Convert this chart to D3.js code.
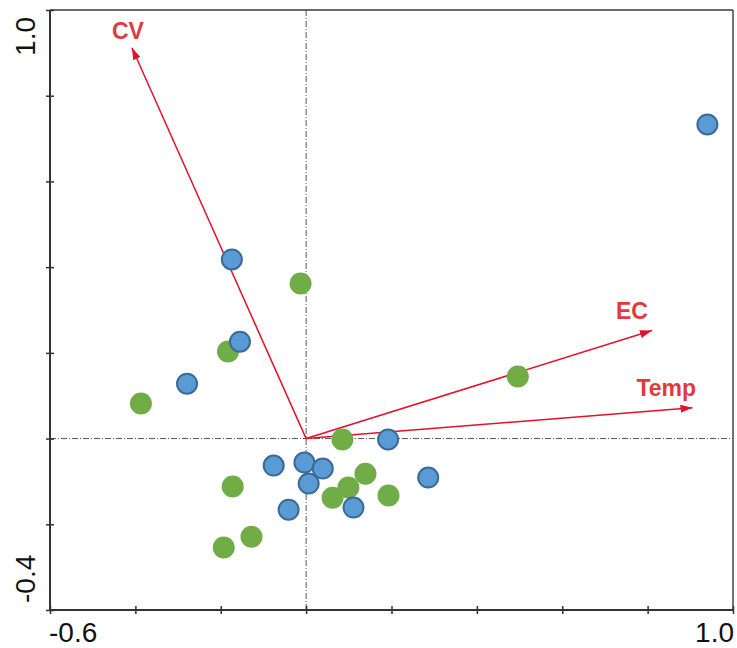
<!DOCTYPE html>
<html>
<head>
	<meta charset='utf-8'>
	<title>Ordination</title>
	<style>
		body { margin: 0; background: #fff; }
		.tick-label { font-family: Arial, 'Liberation Sans', sans-serif; font-size: 28px; fill: #111; }
		.vec { stroke: #e3112c; stroke-width: 1.5px; fill: none; }
		.vec-label { font-family: Arial, 'Liberation Sans', sans-serif; font-size: 23px; font-weight: bold; fill: #e23a3c; }
		.zero { stroke: #555; stroke-width: 1px; stroke-dasharray: 6,2,1,2; }
		.blue { fill: #5b9bd5; stroke: #3b6a99; stroke-width: 2px; }
		.green { fill: #70ad47; }
	</style>
</head>
<body>
<script src='https://d3js.org/d3.v7.min.js'></script>
<script>
	'use strict';

	// Биплот: векторы факторов
	const vectorNames = ['CV', 'EC', 'Temp'];
	const vectorX = [-0.408, 0.810, 0.905];
	const vectorY = [0.912, 0.252, 0.072];

	// Точки (две группы)
	const blueX = [0.940, -0.174, -0.155, -0.279, 0.192, -0.076, -0.004, 0.039, 0.006, 0.286, -0.041, 0.111];
	const blueY = [0.733, 0.418, 0.226, 0.128, -0.002, -0.063, -0.056, -0.070, -0.105, -0.091, -0.166, -0.161];
	const greenX = [-0.013, -0.183, -0.387, 0.496, 0.085, 0.139, 0.099, 0.062, 0.193, -0.172, -0.128, -0.193];
	const greenY = [0.362, 0.203, 0.082, 0.145, -0.002, -0.082, -0.114, -0.138, -0.133, -0.112, -0.229, -0.254];

	const xTicks = [-0.6, -0.4, -0.2, 0, 0.2, 0.4, 0.6, 0.8, 1.0];
	const yTicks = [-0.4, -0.2, 0, 0.2, 0.4, 0.6, 0.8, 1.0];
	const xTickLabels = ['-0.6', '1.0'];
	const yTickLabels = ['-0.4', '1.0'];

	const W = 737, H = 648;
	const margin = {top: 10, right: 4, bottom: 38, left: 50};
	const width = W - margin.left - margin.right;
	const height = H - margin.top - margin.bottom;

	const x = d3.scaleLinear().domain([-0.6, 1.0]).range([0, width]);
	const y = d3.scaleLinear().domain([-0.4, 1.0]).range([height, 0]);

	const svg = d3.select('body').append('svg')
		.attr('width', W)
		.attr('height', H);

	const g = svg.append('g')
		.attr('transform', 'translate(' + margin.left + ',' + margin.top + ')');

	// рамка: верх и право серые
	g.append('line').attr('x1', 0).attr('x2', width).attr('y1', 0).attr('y2', 0)
		.attr('stroke', '#6a6a6a').attr('stroke-width', 2);
	g.append('line').attr('x1', width).attr('x2', width).attr('y1', 0).attr('y2', height)
		.attr('stroke', '#444').attr('stroke-width', 1.5);

	// нулевые линии
	g.append('line').attr('class', 'zero')
		.attr('x1', 0).attr('x2', width).attr('y1', y(0)).attr('y2', y(0));
	g.append('line').attr('class', 'zero')
		.attr('x1', x(0)).attr('x2', x(0)).attr('y1', 0).attr('y2', height);

	// оси
	const xAxis = g.append('g')
		.attr('transform', 'translate(0,' + height + ')')
		.call(d3.axisBottom(x).tickValues(xTicks).tickSize(8).tickFormat(''));
	xAxis.selectAll('.tick line').attr('transform', 'translate(0,-4)');

	const yAxis = g.append('g')
		.call(d3.axisLeft(y).tickValues(yTicks).tickSize(8).tickFormat(''));
	yAxis.selectAll('.tick line').attr('transform', 'translate(4,0)');

	[xAxis, yAxis].forEach(function(a) {
		a.select('.domain').attr('stroke', '#333').attr('stroke-width', 2);
		a.selectAll('.tick line').attr('stroke', '#333').attr('stroke-width', 1.5);
	});
	xAxis.select('.domain').attr('d', 'M0,0H' + width);
	yAxis.select('.domain').attr('d', 'M0,' + height + 'V0');

	// подписи крайних делений
	g.append('text').attr('class', 'tick-label')
		.attr('x', x(-0.6) - 1).attr('y', height + 32)
		.text(xTickLabels[0]);
	g.append('text').attr('class', 'tick-label')
		.attr('x', x(1.0) + 1).attr('y', height + 32)
		.attr('text-anchor', 'end')
		.text(xTickLabels[1]);
	g.append('text').attr('class', 'tick-label')
		.attr('transform', 'translate(-15,' + (y(-0.4) - 7) + ') rotate(-90)')
		.text(yTickLabels[0]);
	g.append('text').attr('class', 'tick-label')
		.attr('transform', 'translate(-15,' + (y(1.0) + 7) + ') rotate(-90)')
		.attr('text-anchor', 'end')
		.text(yTickLabels[1]);

	// наконечник стрелки
	svg.append('defs').append('marker')
		.attr('id', 'head')
		.attr('viewBox', '0 0 12 8')
		.attr('refX', 12).attr('refY', 4)
		.attr('markerWidth', 12).attr('markerHeight', 8)
		.attr('markerUnits', 'userSpaceOnUse')
		.attr('orient', 'auto')
		.append('path')
		.attr('d', 'M0,0L12,4L0,8Z')
		.attr('fill', '#e3112c');

	const vectors = vectorNames.map(function(n, i) {
		return {name: n, x: vectorX[i], y: vectorY[i]};
	});
	// смещение подписей от кончика стрелки
	const labelOffset = {CV: [-20, -9], EC: [-36, -12], Temp: [-56, -12]};

	g.selectAll('.vec').data(vectors).enter().append('line')
		.attr('class', 'vec')
		.attr('x1', x(0)).attr('y1', y(0))
		.attr('x2', function(d) {return x(d.x);})
		.attr('y2', function(d) {return y(d.y);})
		.attr('marker-end', 'url(#head)');

	g.selectAll('.vec-label').data(vectors).enter().append('text')
		.attr('class', 'vec-label')
		.attr('x', function(d) {return x(d.x) + labelOffset[d.name][0];})
		.attr('y', function(d) {return y(d.y) + labelOffset[d.name][1];})
		.text(function(d) {return d.name;});

	// точки
	const greens = greenX.map(function(v, i) {return {x: v, y: greenY[i]};});
	const blues = blueX.map(function(v, i) {return {x: v, y: blueY[i]};});

	g.selectAll('.green').data(greens).enter().append('circle')
		.attr('class', 'green')
		.attr('r', 11)
		.attr('cx', function(d) {return x(d.x);})
		.attr('cy', function(d) {return y(d.y);});

	g.selectAll('.blue').data(blues).enter().append('circle')
		.attr('class', 'blue')
		.attr('r', 10)
		.attr('cx', function(d) {return x(d.x);})
		.attr('cy', function(d) {return y(d.y);});
</script>
</body>
</html>
